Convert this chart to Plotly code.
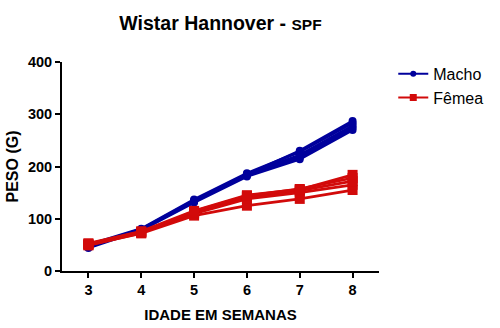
import plotly.graph_objects as go

weeks = [3, 4, 5, 6, 7, 8]
week_labels = ["3", "4", "5", "6", "7", "8"]

macho_series = [
    [44, 78, 131, 181, 214, 270],
    [46, 79, 133, 183, 218, 274],
    [48, 80, 135, 185, 222, 278],
    [50, 81, 137, 187, 228, 283],
    [47, 79, 134, 184, 230, 287],
]
femea_series = [
    [50, 72, 106, 125, 138, 155],
    [51, 74, 110, 138, 150, 165],
    [52, 75, 112, 142, 154, 172],
    [49, 73, 114, 144, 157, 178],
    [53, 76, 115, 145, 156, 184],
]

y_ticks = [0, 100, 200, 300, 400]

BLUE = "#00009C"
RED = "#D20A0A"
FONT = "Liberation Sans, Arial, sans-serif"

fig = go.Figure()
for ys in macho_series:
    fig.add_trace(go.Scatter(
        x=weeks, y=ys, mode="lines+markers", name="Macho",
        legendgroup="m", showlegend=False,
        line=dict(color=BLUE, width=2.8),
        marker=dict(symbol="circle", size=8, color=BLUE),
    ))
for ys in femea_series:
    fig.add_trace(go.Scatter(
        x=weeks, y=ys, mode="lines+markers", name="Fêmea",
        legendgroup="f", showlegend=False,
        line=dict(color=RED, width=2.8),
        marker=dict(symbol="square", size=10, color=RED),
    ))
# legend entries (smaller symbols as in the reference)
fig.add_trace(go.Scatter(
    x=[None], y=[None], mode="lines+markers", name="Macho", legendgroup="m",
    line=dict(color=BLUE, width=2), marker=dict(symbol="circle", size=6, color=BLUE),
))
fig.add_trace(go.Scatter(
    x=[None], y=[None], mode="lines+markers", name="Fêmea", legendgroup="f",
    line=dict(color=RED, width=2), marker=dict(symbol="square", size=7, color=RED),
))

fig.update_layout(
    width=500, height=328,
    margin=dict(l=62, r=118, t=62, b=57),
    paper_bgcolor="white", plot_bgcolor="white",
    font=dict(family=FONT, color="black"),
    title=dict(
        text="<b>Wistar Hannover - <span style='font-size:15.5px'>SPF</span></b>",
        x=0.5, xref="paper", xanchor="center", y=0.93, yanchor="middle",
        font=dict(size=19.5, family=FONT, color="black"),
    ),
    legend=dict(
        x=1.045, y=1.025, xref="paper", yref="paper",
        xanchor="left", yanchor="top",
        font=dict(size=16, family=FONT, color="black"),
        bgcolor="rgba(0,0,0,0)", itemwidth=30, tracegroupgap=0,
    ),
    showlegend=True,
)
fig.update_xaxes(
    range=[2.5, 8.5], tickvals=weeks, ticktext=week_labels,
    showgrid=False, zeroline=False, automargin=False,
    showline=True, linecolor="black", linewidth=2,
    ticks="outside", ticklen=5, tickwidth=2, tickcolor="black",
    tickfont=dict(size=14.5, family=FONT, weight="bold"),
    title=dict(text="<b>IDADE EM SEMANAS</b>", font=dict(size=15, family=FONT), standoff=12),
)
fig.update_yaxes(
    range=[0, 400], tickvals=y_ticks,
    showgrid=False, zeroline=False, automargin=False,
    showline=True, linecolor="black", linewidth=2,
    ticks="outside", ticklen=5, tickwidth=2, tickcolor="black",
    tickfont=dict(size=14.5, family=FONT, weight="bold"),
    title=dict(text="<b>PESO (G)</b>", font=dict(size=16, family=FONT), standoff=5),
)

fig.write_html("out.html")
